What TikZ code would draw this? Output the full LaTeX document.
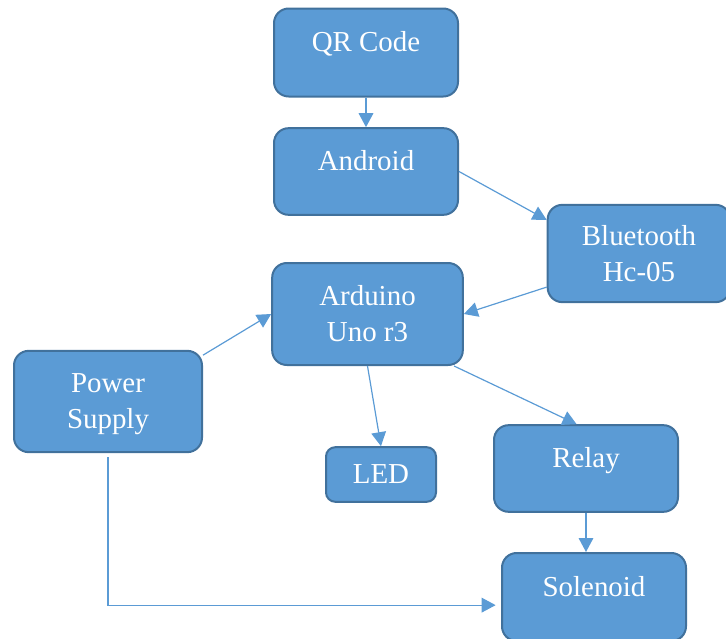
\documentclass[tikz,border=0pt]{standalone}
\usepackage{fontspec}
\setmainfont{Liberation Serif}
\usetikzlibrary{arrows.meta}
\definecolor{boxfill}{HTML}{5B9BD5}
\definecolor{boxline}{HTML}{41719C}
\begin{document}
\begin{tikzpicture}[
    x=0.75pt, y=-0.75pt,
    block_style/.style={rectangle, draw=boxline, line width=1.5pt, fill=boxfill,
        rounded corners=11pt, text=white, align=center, inner sep=0pt,
        font=\fontsize{21.7}{27}\selectfont},
    one_line/.style={text height=15pt, text depth=16.4pt},
    link/.style={-{Triangle[width=11pt,length=10.5pt]}, line width=0.9pt, color=boxfill}
]
\useasboundingbox (0,0) rectangle (726,639);

% Blocs
\node[block_style, one_line, minimum width=138pt, minimum height=66pt] (qr) at (366, 52.5) {QR Code};
\node[block_style, one_line, minimum width=138pt, minimum height=65pt] (android) at (366, 171.5) {Android};
\node[block_style, minimum width=137pt, minimum height=73pt] (bt) at (639, 253.5) {Bluetooth\\Hc-05};
\node[block_style, minimum width=143pt, minimum height=76.5pt] (uno) at (367.5, 314) {Arduino\\Uno r3};
\node[block_style, text depth=0pt, minimum width=141pt, minimum height=76pt] (power) at (108, 401.5) {Power\\Supply};
\node[block_style, rounded corners=7pt, minimum width=82.5pt, minimum height=41pt] (led) at (381, 474.5) {LED};
\node[block_style, one_line, minimum width=138pt, minimum height=65pt] (relay) at (586, 468.5) {Relay};
\node[block_style, one_line, minimum width=138pt, minimum height=66pt] (sol) at (594, 597) {Solenoid};

% Liaisons
\draw[link] (qr) -- (android);
\draw[link] (android.east) -- (bt.160);
\draw[link] (bt.200) -- (uno.east);
\draw[link] (power.26) -- (uno.west);
\draw[link] (uno.south) -- (led.north);
\draw[link] (uno.-31) -- (relay.102);
\draw[link] (relay.south) -- (relay.south |- sol.north);
\draw[link, shorten <=3pt, shorten >=4pt] (power.south) |- (sol.185);
\end{tikzpicture}
\end{document}
